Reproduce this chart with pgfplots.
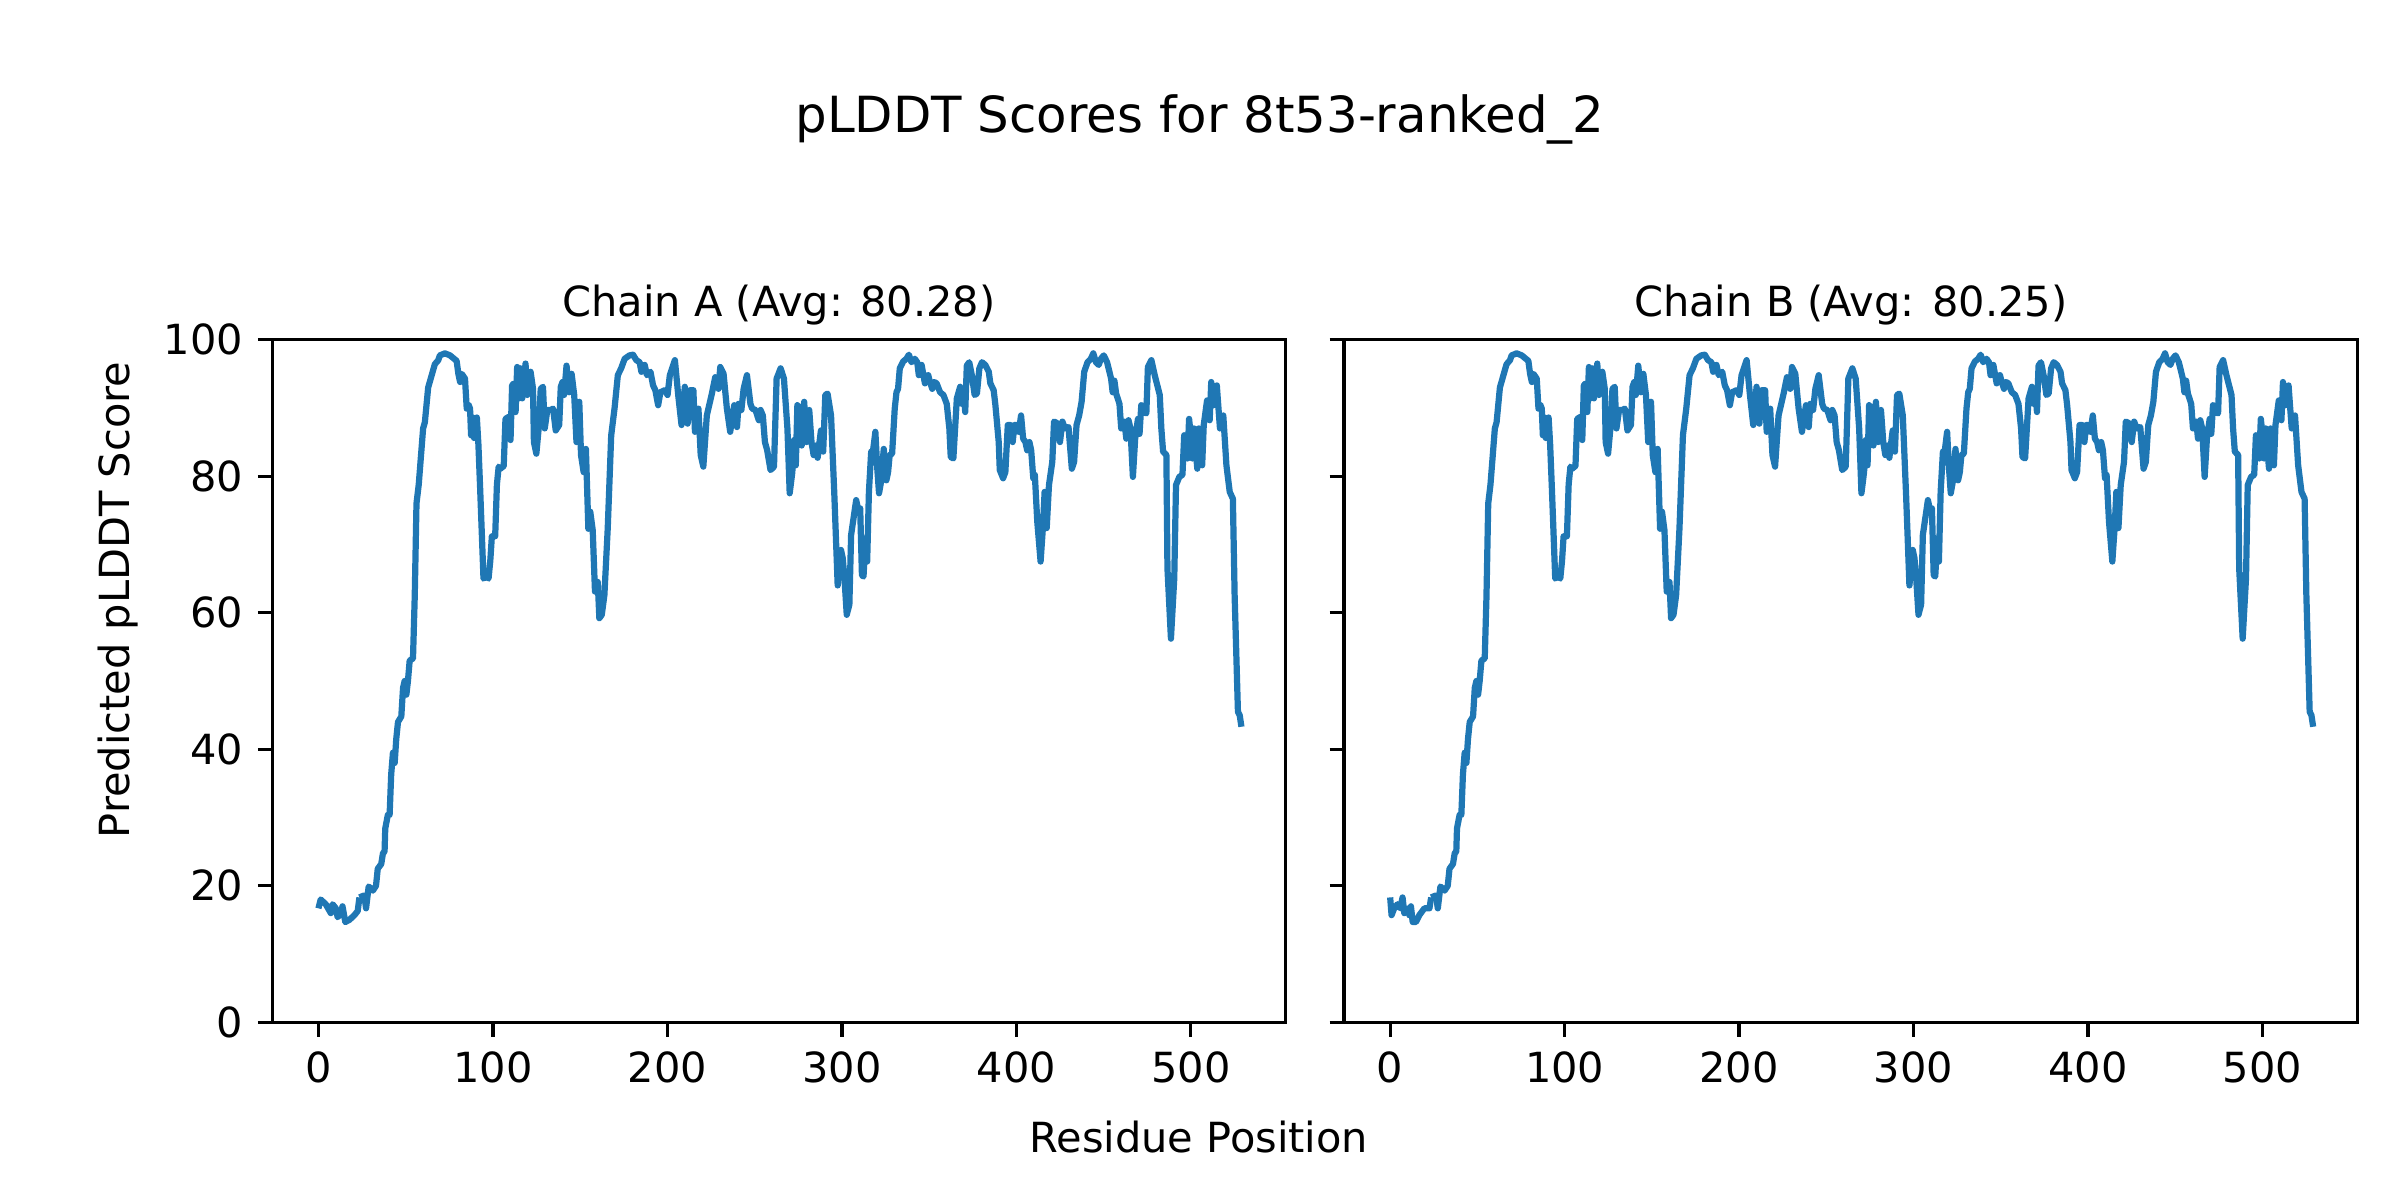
\documentclass[border=0pt]{standalone}
\usepackage{fontspec}
\setmainfont{DejaVu Sans}
\usepackage{pgfplots}
\pgfplotsset{compat=1.18}
\usepackage{pgfplotstable}
\definecolor{mplblue}{HTML}{1F77B4}

% first residues differ between the two chains
\pgfplotstableread{
res plddt
0 16.7
1.3 18
4.2 17.3
7.1 16
8.1 17.3
10 16.7
11 15.4
12.9 16
13.8 17
15.4 14.7
17.7 15
20.6 15.7
22.5 16.3
23.5 18.3
}\headA

\pgfplotstableread{
res plddt
0 18.3
0.8 15.7
2.3 16.7
4.2 17.3
5.8 16.7
7.1 18.3
8.1 16
10 16.7
11 15.7
11.9 17
12.9 14.7
14.8 14.7
16.7 15.7
19.6 16.7
22.5 16.7
23.5 18.3
}\headB

% shared remainder
\pgfplotstableread{
res plddt
23.5 18.3
26.3 18.6
27.3 16.7
28.8 19.9
31.2 19.3
33 20
34 22.5
36 23.2
37 24.8
37.9 25
38.3 28.4
39.8 30.4
40.8 30.4
41.7 36.3
42.7 39.5
43.7 38
44.6 41.5
45.6 44
47.5 44.8
48.5 49
49.4 50
50.4 48
51.3 50
52.3 53
54.2 53.3
55.2 62.4
56.2 76
57.5 78.8
60 87
61 87.9
62.9 93
63.8 93.8
66.7 96.4
68.7 97
69.6 97.7
72.5 98
75.4 97.7
79.2 96.9
80.2 95
81.2 93.8
82.1 95
84 94.3
85 89.9
86 90.5
86.9 89.9
87.5 86
88.5 88.6
89.2 85.6
90.8 88.6
91.7 84.6
92.7 78.1
94.6 65
96.2 65.4
97.5 65
98.5 67.6
99.4 71.2
101.3 71.2
102.3 78.8
103.3 81.4
104.3 81.1
106.2 81.5
107.2 88.4
109.1 88.7
110.1 85.3
111 93.3
112 93.6
113 89.4
113.9 96
114.9 91.4
115.8 95.8
116.8 91.4
118.7 96.5
119.7 91.9
121.6 95.3
123 92.8
123.5 85
124.9 83.3
126.4 87.5
127.4 92.8
128.7 93.1
129.7 87
131.2 89.7
133.1 89.7
134.5 89.9
136 86.7
138 87.5
138.9 93.1
139.9 93.8
140.8 91.9
142.2 96.2
143.7 92.3
145.1 95
146.6 91.9
147.9 85
149.5 90.9
150.5 83.1
152 80.6
153.3 84
154.7 72.3
155.8 74.8
157.2 72.1
158.5 63.1
160.1 64.5
161 59.2
162.4 59.7
163.9 62.6
165.8 72.3
167.8 86
169.7 89.9
171.6 94.8
173.5 95.8
175.5 97.2
178.3 97.7
180.3 97.8
182.2 97
184.1 96.7
185.1 95.3
187 96.3
188.3 94.8
190.3 95.3
191.8 93.3
193.1 92.6
194.7 90.4
196 92.3
198.5 92.6
200.1 91.9
201.4 94.8
204.3 97
206.2 91.9
208.1 87.5
210 93.1
211.6 87.7
213 92.6
214.9 92.6
215.8 86.5
217.8 89.9
219.1 83.1
220.6 81.4
222.6 88.9
225.5 92.1
227.4 94.5
229.3 92.8
230.3 96
232.2 95
234.1 89.9
236 86.5
238.3 90.4
239.9 87.2
240.8 90.6
242.4 89.7
243.7 92.8
245.6 94.8
247.6 90.6
248.6 89.9
250.5 89.7
252.4 88.2
253.4 89.7
254.7 88.9
255.9 85
257.2 83.8
259.1 80.9
261.1 81.4
262.6 94.3
264.9 95.8
266.8 94.3
268.8 87
270.1 77.5
271.6 80.6
272.6 85.3
273.6 81.6
274.5 90.4
275.9 89.9
277 84.5
278.4 90.9
279.7 85
281.3 89.7
282.6 85
283.8 83.1
285.1 84.5
286.1 82.7
288 86.7
289.3 83.6
290.5 91.9
291.8 92.1
293.8 88.9
295.7 77.2
297.6 64
299.5 69.2
300.5 68
301.5 65
302.8 59.7
304.3 61.2
305.3 71.4
308.2 76.5
309.2 75.3
310.5 75.3
311.5 65.5
312.4 65.3
313.6 70.9
314.5 67.5
315.5 77.7
316.8 83.6
317.8 83.6
319.2 86.5
320.3 81.1
321.3 77.5
322.6 79.4
324 84
325.5 79.4
326.5 80.6
327.4 83.1
328.8 83.3
330.3 89.9
331.3 92.3
332.2 92.8
333.2 95.8
335.1 96.8
337 97.2
338.4 97.8
339.9 96.7
341.8 97.2
343.2 96.7
344.1 94.8
345.7 96.3
347.6 93.6
349.5 94.8
350.5 93.8
351.8 92.8
353 93.8
354.3 93.6
356.3 92.3
358.2 91.9
360.1 90.6
361.6 87
362.4 82.8
363.9 82.6
364.9 87
365.9 91.4
367.8 93.1
368.8 90.6
369.7 92.8
370.7 89.4
371.6 96.2
373 96.7
374.5 94.8
376.1 91.9
377.4 92.1
378.8 95.8
380.3 96.7
382.2 96.3
384.2 95.3
385.1 93.6
387 92.6
388 90.4
389.9 85
390.5 80.9
392.4 79.7
393.7 80.6
395.1 87.5
396.6 87.5
397.9 85
398.9 87.5
400.4 87.5
401.4 86.5
402.7 88.9
403.9 85.5
405.2 85
406.2 83.8
407.5 85
408.5 83.8
409.7 79.7
410.6 80.2
412 73.3
413.9 67.5
415.2 72.4
416.2 77.7
417.4 72.4
418.7 78.7
420.6 82.1
421.6 88
423.9 87.7
425 85
426.4 88
427.9 87
429.9 87.2
431.8 81.1
433.1 82.1
434.5 87.5
436 88.9
437.4 90.9
438.9 95.3
440.8 96.7
442.7 97.2
444.1 98
445.6 96.7
447.2 96.3
448.5 97.2
450.1 97.7
452 96.7
454.3 94.3
455.2 92.3
456.2 94
457.2 92.1
459.1 90.6
460.1 87
462 88
463 85.5
464.3 88.2
465.4 87
466.8 79.9
468.1 85.5
469.7 88.4
470.6 86.2
471.6 90.4
473.1 89.4
474.5 89.2
475.4 96
477.4 97
479.3 94.8
482.2 91.9
483.1 87
484.1 83.6
486 83.1
486.6 66.5
488.6 56.2
490.5 65
491.5 78.7
493.4 79.9
495.2 80.2
496.2 86
498.1 82.6
499 88.4
500 86
500.9 82.6
501.8 87
503.7 81.1
504.6 87
506.5 81.6
507.4 87.5
509.3 91.1
510.8 88.2
511.7 93.8
513 90.4
514.9 93.3
515.8 90.1
516.7 87
518.6 88.9
520.4 81.6
522.3 77.7
524.1 76.7
525.1 62.6
527 45.5
528 45
529 43.3
}\body

\pgfplotsset{
  chain/.style={
    scale only axis,
    width=85.8mm, height=57.8mm,
    anchor=south west,
    xmin=-26.4, xmax=554.4,
    ymin=0, ymax=100,
    xtick={0,100,...,500},
    ytick={0,20,...,100},
    tick align=outside,
    xtick pos=bottom, ytick pos=left,
    major tick length=3.5pt,
    every tick/.style={black, line width=0.8pt},
    axis line style={line width=0.8pt},
    tick label style={font=\fontsize{10}{12}\selectfont},
    /pgf/number format/assume math mode=true,
  },
  pl/.style={mplblue, line width=1.5pt, no markers, line join=round},
}

\begin{document}
\begin{tikzpicture}
\path[use as bounding box] (0,0) rectangle (203.2mm,101.6mm);

\begin{axis}[chain, at={(23.06mm,15.04mm)}]
  \addplot[pl] table[x=res, y=plddt] {\headA};
  \addplot[pl] table[x=res, y=plddt] {\body};
\end{axis}

\begin{axis}[chain, at={(113.8mm,15.04mm)}, yticklabels={}]
  \addplot[pl] table[x=res, y=plddt] {\headB};
  \addplot[pl] table[x=res, y=plddt] {\body};
\end{axis}

\node[font=\fontsize{10}{12}\selectfont, anchor=base] at (65.96mm,74.79mm) {Chain A (Avg: 80.28)};
\node[font=\fontsize{10}{12}\selectfont, anchor=base] at (156.7mm,74.79mm) {Chain B (Avg: 80.25)};
\node[font=\fontsize{12}{14}\selectfont] at (101.6mm,91.5mm) {pLDDT Scores for 8t53-ranked\_2};
\node[font=\fontsize{10}{12}\selectfont] at (101.5mm,5.32mm) {Residue Position};
\node[font=\fontsize{10}{12}\selectfont, rotate=90] at (10.0mm,50.8mm) {Predicted pLDDT Score};
\end{tikzpicture}
\end{document}
